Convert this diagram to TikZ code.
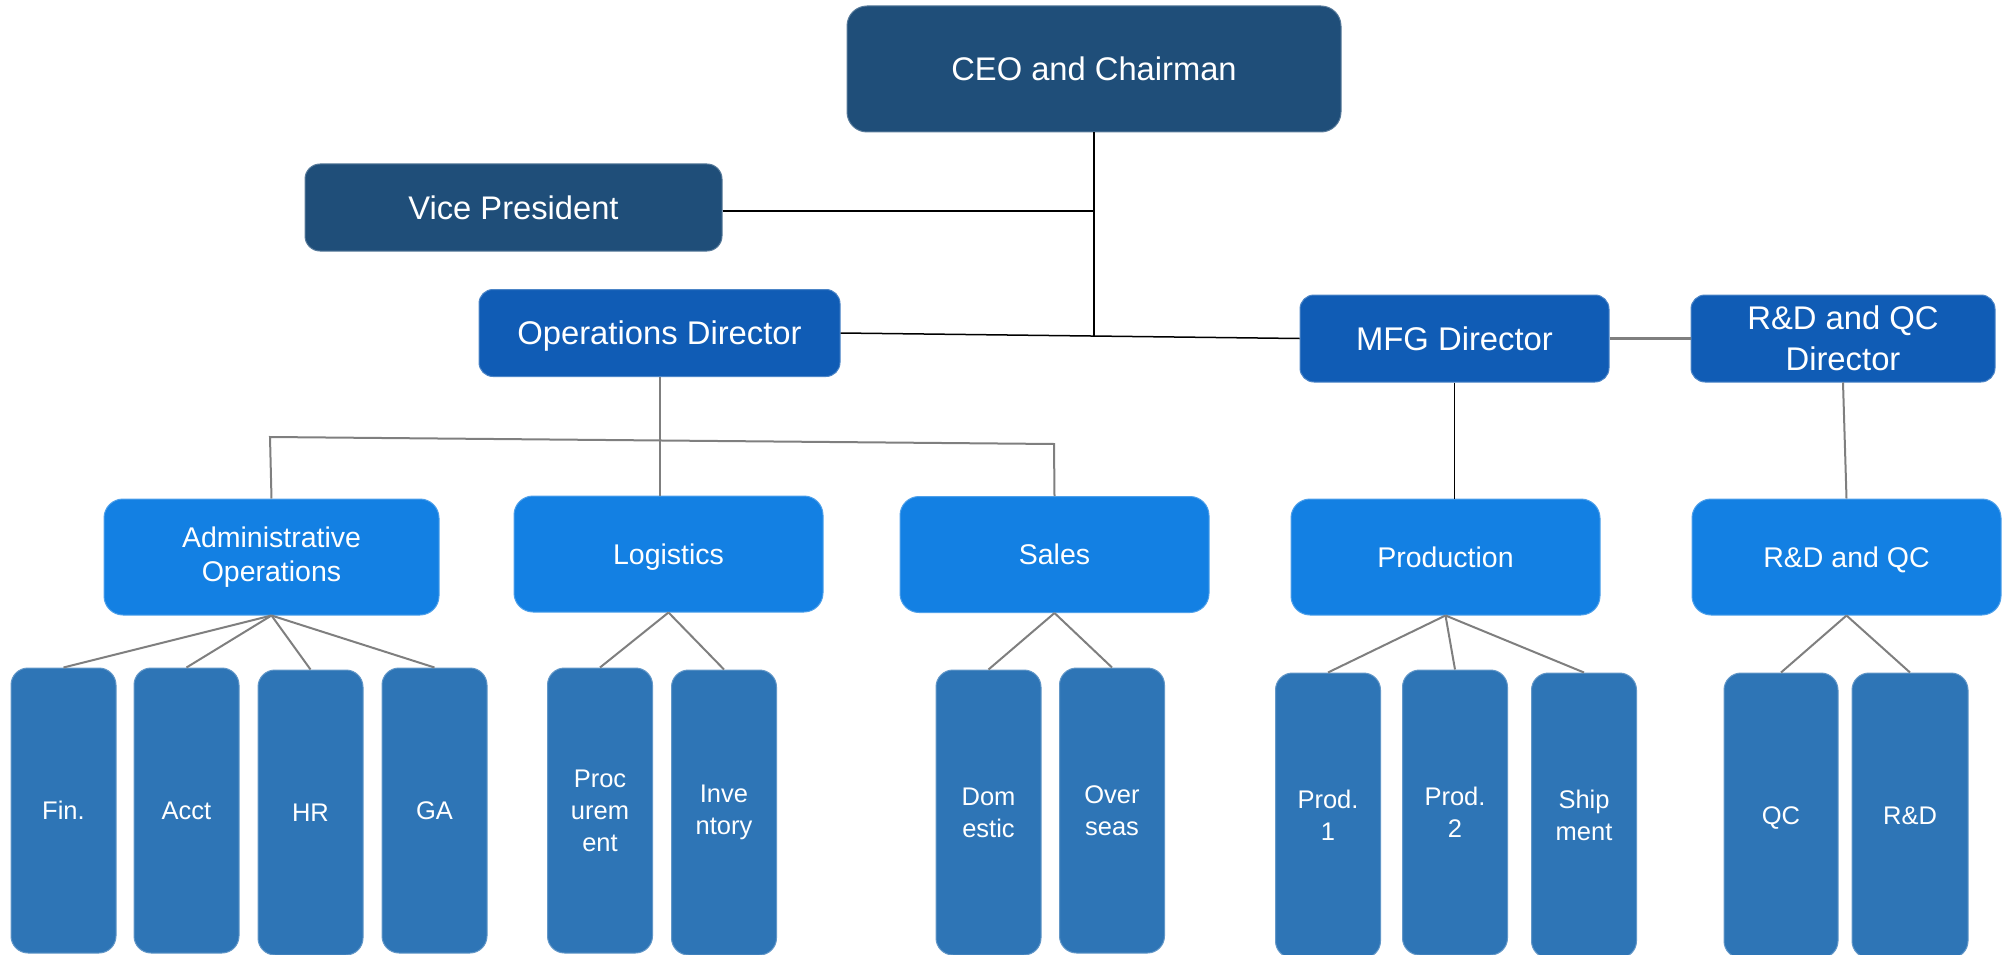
\documentclass[tikz,border=0pt]{standalone}
\usepackage{fontspec}
\setmainfont{Liberation Sans}
\definecolor{boss}{HTML}{1F4E79}
\definecolor{director}{HTML}{105CB5}
\definecolor{dept}{HTML}{1380E3}
\definecolor{unit}{HTML}{2E75B6}
\definecolor{linkgray}{HTML}{7F7F7F}
\begin{document}
\begin{tikzpicture}[x=1pt,y=-1pt,
    box/.style={rectangle,text=white,align=center,inner sep=0pt,line width=1pt},
    oneline/.style={text depth=0pt},
    bossbox/.style={box,oneline,fill=boss,draw=boss!75!white,rounded corners=20pt,
      font=\fontsize{32.7}{39}\selectfont},
    dirbox/.style={box,fill=director,draw=director!75!white,rounded corners=14pt,
      minimum height=87pt,font=\fontsize{32.8}{41}\selectfont},
    deptbox/.style={box,fill=dept,draw=dept!75!white,rounded corners=19pt,
      minimum height=116pt,font=\fontsize{28.5}{34.5}\selectfont},
    unitbox/.style={box,fill=unit,draw=unit!75!white,rounded corners=17pt,
      minimum width=105pt,minimum height=285pt,font=\fontsize{25.5}{32}\selectfont},
    blackline/.style={draw=black,line width=1.5pt},
    grayline/.style={draw=linkgray,line width=2pt}]
  \useasboundingbox (0,0) rectangle (2008,955);
  % top level
  \node[bossbox,minimum width=494pt,minimum height=126pt] (ceo) at (1094,69) {CEO and Chairman};
  \node[bossbox,minimum width=417pt,minimum height=87pt,rounded corners=15pt] (vp) at (513.5,207.5) {Vice President};
  % directors
  \node[dirbox,oneline,minimum width=361pt] (od) at (659.5,333) {Operations Director};
  \node[dirbox,oneline,minimum width=309pt] (mfg) at (1454.5,338.5) {MFG Director};
  \node[dirbox,minimum width=304pt] (rqd) at (1843,338.5) {R\&D and QC\\Director};
  % departments
  \node[deptbox,minimum width=335pt] (adm) at (271.5,557) {Administrative\\Operations};
  \node[deptbox,oneline,minimum width=309pt] (log) at (668.5,554) {Logistics};
  \node[deptbox,oneline,minimum width=309pt] (sal) at (1054.5,554.5) {Sales};
  \node[deptbox,oneline,minimum width=309pt] (prd) at (1445.5,557) {Production};
  \node[deptbox,oneline,minimum width=309pt] (rq) at (1846.5,557) {R\&D and QC};
  % units
  \node[unitbox,oneline] (fin) at (63.5,810.5) {Fin.};
  \node[unitbox,oneline] (acc) at (186.5,810.5) {Acct};
  \node[unitbox,oneline] (hr) at (310.5,812.5) {HR};
  \node[unitbox,oneline] (ga) at (434.5,810.5) {GA};
  \node[unitbox] (pro) at (600,810.5) {Proc\\urem\\ent};
  \node[unitbox] (inv) at (724,812.5) {Inve\\ntory};
  \node[unitbox] (dom) at (988.5,812.5) {Dom\\estic};
  \node[unitbox] (ovs) at (1112,810.5) {Over\\seas};
  \node[unitbox] (p1) at (1328,815.5) {Prod.\\1};
  \node[unitbox] (p2) at (1455,812.5) {Prod.\\2};
  \node[unitbox] (shp) at (1584,815.5) {Ship\\ment};
  \node[unitbox,oneline,minimum width=114pt] (qc) at (1781,815.5) {QC};
  \node[unitbox,oneline,minimum width=116pt] (rd) at (1910,815.5) {R\&D};
  % junctions
  \coordinate (vpj) at (1094,211);
  \coordinate (jn) at (1094,336);
  \coordinate (busL) at (270,437);
  \coordinate (busR) at (1054,444);
  \begin{scope}[blackline]
    \draw (ceo) to (jn);
    \draw (vpj -| vp.east) to (vpj);
    \draw (od.east) to (mfg.west);
    \draw[line width=1pt] (mfg.south) to (mfg.south |- prd.north);
  \end{scope}
  \begin{scope}[grayline]
    \draw[line width=3pt] (mfg) to (rqd);
    \draw (rqd.south) to (rq.north);
    \draw (od.south) to (od.south |- log.north);
    \draw (adm.north) to (busL) to (busR) to (sal.north);
    \draw (adm.south) to (fin.north);
    \draw (adm.south) to (acc.north);
    \draw (adm.south) to (hr.north);
    \draw (adm.south) to (ga.north);
    \draw (log.south) to (pro.north);
    \draw (log.south) to (inv.north);
    \draw (sal.south) to (dom.north);
    \draw (sal.south) to (ovs.north);
    \draw (prd.south) to (p1.north);
    \draw (prd.south) to (p2.north);
    \draw (prd.south) to (shp.north);
    \draw (rq.south) to (qc.north);
    \draw (rq.south) to (rd.north);
  \end{scope}
\end{tikzpicture}
\end{document}
